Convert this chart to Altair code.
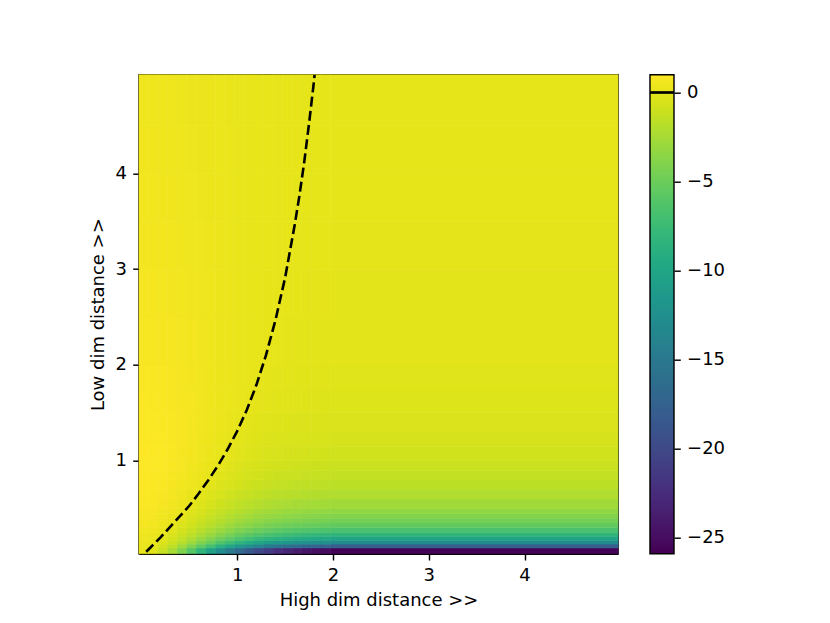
import altair as alt
import pandas as pd

# column edges (high-dim distance) and row edges (low-dim distance)
x_edges = [-0.025, 0.075, 0.175, 0.275, 0.375, 0.475, 0.575, 0.675, 0.775, 0.875,
           0.975, 1.075, 1.175, 1.275, 1.375, 1.475, 1.575, 1.675, 1.775, 1.875,
           1.975, 4.975]
y_edges = [0.03, 0.09, 0.13, 0.17, 0.21, 0.25, 0.30, 0.35, 0.40, 0.45, 0.50, 0.60,
           0.70, 0.80, 0.90, 1.00, 1.15, 1.30, 1.50, 1.75, 2.00, 2.50, 3.00, 3.50,
           4.00, 4.50, 5.03]

# estimated cell values, one list per row (bottom to top), left to right
v_row01 = [0.13, -0.25, -1.13, -2.45, -4.13, -6.09, -8.22, -10.44, -12.64, -14.74, -16.69, -18.44, -19.97, -21.27, -22.35, -23.22, -23.90, -24.43, -24.82, -25.11, -25.75]
v_row02 = [0.21, -0.06, -0.68, -1.60, -2.79, -4.16, -5.66, -7.21, -8.76, -10.24, -11.60, -12.83, -13.91, -14.82, -15.58, -16.19, -16.67, -17.04, -17.31, -17.52, -17.96]
v_row03 = [0.29, 0.09, -0.37, -1.04, -1.91, -2.92, -4.02, -5.16, -6.29, -7.37, -8.38, -9.28, -10.06, -10.73, -11.29, -11.73, -12.09, -12.36, -12.56, -12.71, -13.04]
v_row04 = [0.36, 0.20, -0.15, -0.69, -1.37, -2.17, -3.04, -3.94, -4.83, -5.69, -6.48, -7.19, -7.82, -8.34, -8.78, -9.13, -9.41, -9.63, -9.79, -9.90, -10.16]
v_row05 = [0.43, 0.30, 0.01, -0.44, -1.00, -1.66, -2.38, -3.12, -3.86, -4.57, -5.22, -5.81, -6.32, -6.76, -7.12, -7.41, -7.64, -7.82, -7.95, -8.05, -8.26]
v_row06 = [0.51, 0.40, 0.15, -0.22, -0.69, -1.24, -1.84, -2.46, -3.08, -3.67, -4.22, -4.71, -5.14, -5.50, -5.81, -6.05, -6.24, -6.39, -6.50, -6.58, -6.76]
v_row07 = [0.58, 0.49, 0.28, -0.03, -0.43, -0.89, -1.40, -1.93, -2.45, -2.95, -3.41, -3.83, -4.19, -4.50, -4.76, -4.96, -5.12, -5.25, -5.34, -5.41, -5.56]
v_row08 = [0.65, 0.57, 0.39, 0.12, -0.22, -0.63, -1.07, -1.52, -1.98, -2.41, -2.81, -3.17, -3.49, -3.75, -3.98, -4.15, -4.30, -4.40, -4.48, -4.54, -4.68]
v_row09 = [0.72, 0.65, 0.49, 0.25, -0.06, -0.41, -0.80, -1.20, -1.60, -1.99, -2.34, -2.66, -2.94, -3.17, -3.37, -3.53, -3.65, -3.75, -3.82, -3.87, -3.99]
v_row10 = [0.77, 0.71, 0.57, 0.35, 0.08, -0.24, -0.59, -0.95, -1.30, -1.65, -1.96, -2.25, -2.50, -2.71, -2.88, -3.02, -3.14, -3.22, -3.28, -3.33, -3.44]
v_row11 = [0.84, 0.79, 0.66, 0.48, 0.24, -0.03, -0.33, -0.64, -0.95, -1.25, -1.52, -1.77, -1.98, -2.16, -2.31, -2.44, -2.53, -2.61, -2.66, -2.70, -2.79]
v_row12 = [0.91, 0.87, 0.76, 0.61, 0.41, 0.17, -0.08, -0.34, -0.61, -0.86, -1.09, -1.30, -1.48, -1.63, -1.76, -1.86, -1.94, -2.01, -2.05, -2.09, -2.16]
v_row13 = [0.96, 0.92, 0.83, 0.69, 0.52, 0.32, 0.10, -0.13, -0.36, -0.57, -0.77, -0.95, -1.11, -1.25, -1.36, -1.45, -1.52, -1.57, -1.61, -1.64, -1.71]
v_row14 = [0.99, 0.95, 0.87, 0.75, 0.60, 0.42, 0.23, 0.02, -0.18, -0.37, -0.54, -0.70, -0.84, -0.96, -1.06, -1.14, -1.20, -1.25, -1.28, -1.31, -1.37]
v_row15 = [1.00, 0.97, 0.89, 0.79, 0.65, 0.49, 0.32, 0.14, -0.04, -0.21, -0.37, -0.51, -0.64, -0.74, -0.83, -0.90, -0.96, -1.00, -1.03, -1.05, -1.11]
v_row16 = [1.00, 0.97, 0.91, 0.81, 0.69, 0.55, 0.40, 0.24, 0.08, -0.07, -0.21, -0.34, -0.45, -0.54, -0.62, -0.68, -0.73, -0.77, -0.80, -0.82, -0.86]
v_row17 = [0.98, 0.95, 0.90, 0.82, 0.71, 0.59, 0.45, 0.31, 0.17, 0.04, -0.08, -0.19, -0.29, -0.37, -0.44, -0.49, -0.54, -0.57, -0.59, -0.61, -0.65]
v_row18 = [0.94, 0.92, 0.87, 0.80, 0.71, 0.60, 0.48, 0.36, 0.24, 0.12, 0.02, -0.08, -0.16, -0.24, -0.30, -0.34, -0.38, -0.41, -0.43, -0.45, -0.48]
v_row19 = [0.89, 0.87, 0.83, 0.77, 0.69, 0.60, 0.49, 0.39, 0.28, 0.18, 0.09, 0.01, -0.06, -0.13, -0.18, -0.22, -0.25, -0.28, -0.29, -0.31, -0.34]
v_row20 = [0.83, 0.81, 0.78, 0.72, 0.65, 0.57, 0.49, 0.39, 0.30, 0.22, 0.14, 0.06, 0.00, -0.05, -0.10, -0.13, -0.16, -0.18, -0.20, -0.21, -0.24]
v_row21 = [0.74, 0.73, 0.70, 0.65, 0.60, 0.53, 0.46, 0.38, 0.30, 0.23, 0.16, 0.10, 0.05, 0.01, -0.03, -0.06, -0.08, -0.10, -0.11, -0.12, -0.15]
v_row22 = [0.64, 0.63, 0.61, 0.57, 0.52, 0.47, 0.41, 0.35, 0.28, 0.22, 0.17, 0.12, 0.08, 0.04, 0.01, -0.01, -0.03, -0.05, -0.06, -0.07, -0.09]
v_row23 = [0.56, 0.55, 0.53, 0.50, 0.46, 0.41, 0.36, 0.31, 0.26, 0.21, 0.16, 0.12, 0.08, 0.05, 0.03, 0.01, -0.01, -0.02, -0.03, -0.04, -0.05]
v_row24 = [0.50, 0.49, 0.47, 0.44, 0.41, 0.37, 0.33, 0.28, 0.23, 0.19, 0.15, 0.11, 0.08, 0.06, 0.03, 0.02, 0.00, -0.01, -0.02, -0.02, -0.04]
v_row25 = [0.45, 0.44, 0.42, 0.40, 0.37, 0.33, 0.29, 0.25, 0.21, 0.18, 0.14, 0.11, 0.08, 0.06, 0.04, 0.02, 0.01, 0.00, -0.01, -0.01, -0.02]
v_row26 = [0.40, 0.40, 0.38, 0.36, 0.33, 0.30, 0.27, 0.23, 0.20, 0.16, 0.13, 0.10, 0.08, 0.06, 0.04, 0.02, 0.01, 0.00, 0.00, -0.01, -0.02]

# zero-level contour (dashed line)
contour_x = [0.05, 0.10, 0.20, 0.30, 0.40, 0.50, 0.60, 0.70, 0.80, 0.90, 1.00, 1.10,
             1.20, 1.30, 1.40, 1.50, 1.60, 1.65, 1.70, 1.75, 1.80, 1.808]
contour_y = [0.05, 0.10, 0.20, 0.31, 0.42, 0.53, 0.66, 0.80, 0.95, 1.12, 1.31, 1.53,
             1.79, 2.10, 2.47, 2.91, 3.46, 3.77, 4.12, 4.52, 4.95, 5.03]

cbar_ticks = [0, -5, -10, -15, -20, -25]
v_min, v_max = -25.9, 1.0

rows = [v_row01, v_row02, v_row03, v_row04, v_row05, v_row06, v_row07, v_row08,
        v_row09, v_row10, v_row11, v_row12, v_row13, v_row14, v_row15, v_row16,
        v_row17, v_row18, v_row19, v_row20, v_row21, v_row22, v_row23, v_row24,
        v_row25, v_row26]

recs = []
for i, row in enumerate(rows):
    for j, val in enumerate(row):
        recs.append({"x0": x_edges[j], "x1": x_edges[j + 1],
                     "y0": y_edges[i], "y1": y_edges[i + 1], "v": val})
cells = pd.DataFrame(recs)
contour = pd.DataFrame({"cx": contour_x, "cy": contour_y, "k": range(len(contour_x))})

cscale = alt.Scale(scheme="viridis", domain=[v_min, v_max], clamp=True)
xscale = alt.Scale(domain=[-0.025, 4.975], nice=False, zero=False)
yscale = alt.Scale(domain=[0.03, 5.03], nice=False, zero=False)

heat = alt.Chart(cells).mark_rect(strokeWidth=0.6).encode(
    x=alt.X("x0:Q", scale=xscale,
            axis=alt.Axis(values=[1, 2, 3, 4], format="d", title="High dim distance >>",
                          titlePadding=7)),
    x2="x1:Q",
    y=alt.Y("y0:Q", scale=yscale,
            axis=alt.Axis(values=[1, 2, 3, 4], format="d", title="Low dim distance >>",
                          titlePadding=7)),
    y2="y1:Q",
    color=alt.Color("v:Q", scale=cscale, legend=None),
    stroke=alt.Stroke("v:Q", scale=cscale, legend=None),
)

line = alt.Chart(contour).mark_line(
    color="black", strokeWidth=2.6, strokeDash=[10, 4.3], clip=True
).encode(x="cx:Q", y="cy:Q", order="k:Q")

cb_scale = alt.Scale(domain=[v_min, v_max], nice=False, zero=False)

cbar = alt.Chart(alt.sequence(v_min, v_max, 0.1, as_="v")).transform_calculate(
    v2=f"min(datum.v + 0.15, {v_max})"
).mark_rect().encode(
    y=alt.Y("v:Q", scale=cb_scale,
            axis=alt.Axis(orient="right", offset=56, values=cbar_ticks, format="d",
                          title=None, domain=False, grid=False)),
    y2="v2:Q",
    x=alt.value(511), x2=alt.value(535),
    color=alt.Color("v:Q", scale=cscale, legend=None),
)

zero_line = alt.Chart(pd.DataFrame({"v": [0.0]})).mark_rule(
    color="black", strokeWidth=2.7
).encode(y="v:Q", x=alt.value(511), x2=alt.value(535))

frame = alt.Chart(pd.DataFrame({"a": [0]})).mark_rect(
    filled=False, stroke="black", strokeWidth=1.44
).encode(x=alt.value(511), x2=alt.value(535), y=alt.value(0), y2=alt.value(479))

chart = alt.layer(
    alt.layer(heat, line),
    alt.layer(cbar, zero_line, frame),
).resolve_scale(y="independent").properties(
    width=479, height=479,
    padding={"left": 131, "top": 66.7, "right": 150, "bottom": 75},
    autosize=alt.AutoSizeParams(type="none"),
    background="white",
).configure_view(
    stroke="black", strokeWidth=1.44
).configure_axis(
    labelFont="DejaVu Sans", titleFont="DejaVu Sans",
    labelFontSize=18, titleFontSize=18, titleFontWeight="normal",
    labelColor="black", titleColor="black",
    tickColor="black", domainColor="black",
    tickWidth=1.44, domainWidth=1.44, tickSize=6.3, labelPadding=6.3, grid=False,
)

chart.save("out.html", embed_options={"renderer": "svg", "actions": False})
